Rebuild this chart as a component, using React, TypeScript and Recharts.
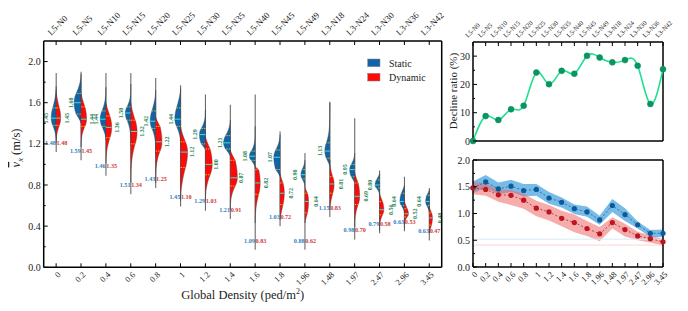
import React from "react";
import {
  ComposedChart,
  LineChart,
  Bar,
  Line,
  Area,
  XAxis,
  YAxis,
  ReferenceLine,
} from "recharts";

const FONT = "'Liberation Serif', 'DejaVu Serif', serif";

// categories
const densities = ["0", "0.2", "0.4", "0.6", "0.8", "1", "1.2", "1.4", "1.6", "1.8", "1.96", "1.48", "1.97", "2.47", "2.96", "3.45"];
const scenarios = ["L5-N0", "L5-N5", "L5-N10", "L5-N15", "L5-N20", "L5-N25", "L5-N30", "L5-N35", "L5-N40", "L5-N45", "L5-N49", "L3-N18", "L3-N24", "L3-N30", "L3-N36", "L3-N42"];

// means (m/s)
const staticMean = [1.48, 1.59, 1.46, 1.51, 1.43, 1.45, 1.29, 1.21, 1.09, 1.03, 0.88, 1.15, 0.98, 0.79, 0.63, 0.63];
const dynamicMean = [1.48, 1.45, 1.35, 1.34, 1.25, 1.10, 1.03, 0.91, 0.83, 0.72, 0.62, 0.83, 0.70, 0.58, 0.53, 0.47];

// violin summaries
const staticMedian = [1.45, 1.60, 1.44, 1.50, 1.42, 1.44, 1.29, 1.21, 1.08, 1.07, 0.90, 1.13, 0.95, 0.80, 0.64, 0.64];
const staticQ1 = [1.38, 1.49, 1.37, 1.43, 1.35, 1.37, 1.20, 1.15, 1.04, 0.95, 0.86, 1.06, 0.88, 0.77, 0.60, 0.60];
const staticQ3 = [1.55, 1.69, 1.52, 1.56, 1.52, 1.55, 1.35, 1.28, 1.13, 1.14, 0.95, 1.21, 1.00, 0.85, 0.72, 0.70];
const staticLo = [1.24, 1.40, 1.24, 1.18, 1.10, 1.18, 1.14, 1.08, 0.95, 0.88, 0.78, 0.98, 0.82, 0.69, 0.53, 0.53];
const staticHi = [1.76, 1.88, 1.75, 1.78, 1.72, 1.74, 1.53, 1.43, 1.37, 1.29, 1.04, 1.60, 1.11, 0.91, 0.80, 0.75];
const staticPeak = [0.4, 0.56, 0.46, 0.44, 0.44, 0.46, 0.48, 0.54, 0.46, 0.5, 0.32, 0.4, 0.4, 0.36, 0.36, 0.29];

const dynamicMedian = [1.45, 1.44, 1.36, 1.32, 1.22, 1.12, 1.00, 0.87, 0.82, 0.72, 0.64, 0.81, 0.69, 0.56, 0.52, 0.48];
const dynamicQ1 = [1.38, 1.37, 1.26, 1.20, 1.13, 0.97, 0.90, 0.79, 0.71, 0.61, 0.53, 0.72, 0.61, 0.51, 0.49, 0.41];
const dynamicQ3 = [1.55, 1.56, 1.47, 1.43, 1.37, 1.22, 1.15, 1.04, 0.95, 0.82, 0.72, 0.88, 0.82, 0.64, 0.57, 0.53];
const dynamicLo = [1.21, 1.17, 1.01, 0.82, 0.82, 0.65, 0.65, 0.56, 0.43, 0.46, 0.43, 0.56, 0.39, 0.36, 0.38, 0.33];
const dynamicHi = [1.72, 1.69, 1.60, 1.60, 1.46, 1.37, 1.27, 1.14, 0.98, 0.91, 0.78, 1.04, 0.92, 0.72, 0.65, 0.59];
const dynamicPeak = [0.36, 0.44, 0.46, 0.5, 0.5, 0.56, 0.54, 0.56, 0.4, 0.34, 0.29, 0.34, 0.4, 0.34, 0.32, 0.25];

const whiskerMin = [1.12, 1.04, 0.89, 0.71, 0.77, 0.59, 0.55, 0.47, 0.17, 0.40, 0.17, 0.49, 0.27, 0.33, 0.35, 0.26];
const whiskerMax = [1.89, 1.90, 1.89, 1.89, 1.84, 1.77, 1.68, 1.58, 1.68, 1.32, 1.11, 1.61, 1.45, 0.94, 0.88, 0.77];

// decline ratio (%)
const declineRatio = [0, 8.8, 7.4, 11.2, 12.5, 24.2, 20.1, 24.8, 23.8, 30.1, 29.5, 27.8, 28.6, 26.6, 13.1, 25.4];

// mean speed bands
const staticBandLo = [1.38, 1.48, 1.36, 1.40, 1.32, 1.33, 1.18, 1.11, 0.99, 0.94, 0.79, 1.03, 0.86, 0.72, 0.56, 0.56];
const staticBandHi = [1.60, 1.72, 1.58, 1.63, 1.55, 1.55, 1.40, 1.30, 1.17, 1.13, 0.96, 1.27, 1.10, 0.85, 0.69, 0.70];
const dynamicBandLo = [1.36, 1.33, 1.22, 1.16, 1.09, 0.95, 0.87, 0.76, 0.65, 0.58, 0.48, 0.72, 0.57, 0.50, 0.46, 0.40];
const dynamicBandHi = [1.60, 1.55, 1.45, 1.44, 1.37, 1.24, 1.16, 1.05, 0.98, 0.86, 0.75, 0.93, 0.81, 0.66, 0.59, 0.53];

const speedTicks = [0, 0.2, 0.4, 0.6, 0.8, 1.0, 1.2, 1.4, 1.6, 1.8, 2.0];
const ratioTicks = [0, 5, 10, 15, 20, 25, 30];
const bandTicks = [0, 0.25, 0.5, 0.75, 1.0, 1.25, 1.5, 1.75, 2.0];

const STATIC_FILL = "#1263a8";
const DYNAMIC_FILL = "#ff0a0a";

const leftRows = densities.map((density, i) => ({
  density,
  scenario: scenarios[i],
  range: [whiskerMin[i], whiskerMax[i]],
  i,
}));
const declineRows = scenarios.map((scenario, i) => ({ scenario, ratio: declineRatio[i] }));
const speedRows = densities.map((density, i) => ({
  density,
  staticMean: staticMean[i],
  dynamicMean: dynamicMean[i],
  staticBand: [staticBandLo[i], staticBandHi[i]],
  dynamicBand: [dynamicBandLo[i], dynamicBandHi[i]],
}));

// relative half-width of a violin at value v
function shapeAt(v: number, lo: number, q1: number, med: number, q3: number, hi: number) {
  if (v <= lo || v >= hi) return 0;
  const up = v >= med;
  const q = up ? q3 : q1;
  const end = up ? hi : lo;
  const core = Math.abs(q - med) || 0.01;
  const d = Math.abs(v - med);
  if (d <= core) {
    const t = d / core;
    return 1 - 0.3 * t * t;
  }
  const tail = Math.abs(end - q) || 0.01;
  const k = Math.min(4, Math.max(1.2, (0.6 * tail) / (0.7 * core)));
  const t = (d - core) / tail;
  return 0.7 * Math.pow(Math.max(0, 1 - t), k);
}

const ViolinShape = (props: any) => {
  const { x, y, width, height, payload } = props;
  if (payload == null || width == null) return null;
  const i = payload.i;
  const lo = whiskerMin[i];
  const hi = whiskerMax[i];
  const top = Math.min(y, y + height);
  const bottom = Math.max(y, y + height);
  const py = (v: number) => top + ((bottom - top) * (hi - v)) / (hi - lo);
  const cx = x + width / 2;
  const half = width / 2;
  const halves = [
    { side: -1, lo: staticLo[i], q1: staticQ1[i], med: staticMedian[i], q3: staticQ3[i], hi: staticHi[i], peak: staticPeak[i], fill: STATIC_FILL },
    { side: 1, lo: dynamicLo[i], q1: dynamicQ1[i], med: dynamicMedian[i], q3: dynamicQ3[i], hi: dynamicHi[i], peak: dynamicPeak[i], fill: DYNAMIC_FILL },
  ];
  const labelY = py(lo + 0.09) + 2;
  return (
    <g>
      <line x1={cx} x2={cx} y1={top} y2={bottom} stroke="#6a6a6a" strokeWidth={1.1} />
      {halves.map((h) => {
        const wAt = (v: number) => half * h.peak * shapeAt(v, h.lo, h.q1, h.med, h.q3, h.hi);
        const pts: string[] = [];
        const steps = 60;
        for (let k = 0; k <= steps; k++) {
          const v = h.lo + ((h.hi - h.lo) * k) / steps;
          pts.push(`${(cx + h.side * wAt(v)).toFixed(2)},${py(v).toFixed(2)}`);
        }
        const d = `M${cx},${py(h.lo)} L${pts.join(" L")} L${cx},${py(h.hi)} Z`;
        return (
          <g key={h.side}>
            <path d={d} fill={h.fill} stroke="#404040" strokeWidth={0.4} />
            {[h.q1, h.q3].map((q, k) => (
              <line key={k} x1={cx} x2={cx + h.side * wAt(q)} y1={py(q)} y2={py(q)} stroke="#f4e000" strokeWidth={0.8} strokeDasharray="1.5 1" />
            ))}
            <line x1={cx} x2={cx + h.side * wAt(h.med)} y1={py(h.med)} y2={py(h.med)} stroke="#3fe3d0" strokeWidth={1} />
          </g>
        );
      })}
      <text transform={`translate(${cx - 8},${py(staticMedian[i])}) rotate(-90)`} textAnchor="middle" fontSize={6} fontWeight="bold" fill="#1b7f52" fontFamily={FONT}>
        {staticMedian[i].toFixed(2)}
      </text>
      <text transform={`translate(${cx + 13},${py(dynamicMedian[i])}) rotate(-90)`} textAnchor="middle" fontSize={6} fontWeight="bold" fill="#1b7f52" fontFamily={FONT}>
        {dynamicMedian[i].toFixed(2)}
      </text>
      <text x={cx - 0.3} y={labelY} textAnchor="end" fontSize={6.2} fontWeight="bold" fill="#2f80c0" fontFamily={FONT}>
        {staticMean[i].toFixed(2)}
      </text>
      <text x={cx + 0.3} y={labelY} textAnchor="start" fontSize={6.2} fontWeight="bold" fill="#d03a3a" fontFamily={FONT}>
        {dynamicMean[i].toFixed(2)}
      </text>
    </g>
  );
};

const makeYTick = (isMajor: (v: number) => boolean, fmt: (v: number) => string, fs: number) => (p: any) => {
  const v = p.payload.value;
  const major = isMajor(v);
  return (
    <g>
      <line x1={p.x} x2={p.x + (major ? 4 : 2)} y1={p.y} y2={p.y} stroke="#000" strokeWidth={1} />
      {major && (
        <text x={p.x - 3} y={p.y + 3.5} textAnchor="end" fontSize={fs} fontFamily={FONT} fill="#222">
          {fmt(v)}
        </text>
      )}
    </g>
  );
};

const makeTopTick = (fs: number, dx: number, dy: number) => (p: any) => (
  <g>
    <line x1={p.x} x2={p.x} y1={p.y} y2={p.y + 4} stroke="#000" strokeWidth={1} />
    <text transform={`translate(${p.x + dx},${p.y + dy}) rotate(-45)`} fontSize={fs} fontFamily={FONT} fill="#222">
      {p.payload.value}
    </text>
  </g>
);

const makeBottomTick = (fs: number, dx: number, dy: number) => (p: any) => (
  <g>
    <line x1={p.x} x2={p.x} y1={p.y} y2={p.y - 4} stroke="#000" strokeWidth={1} />
    <text transform={`translate(${p.x + dx},${p.y + dy}) rotate(-45)`} textAnchor="end" fontSize={fs} fontFamily={FONT} fill="#222">
      {p.payload.value}
    </text>
  </g>
);

const frame = { stroke: "#000", strokeWidth: 1.5 };

export default function App() {
  return (
    <div style={{ position: "absolute", left: 0, top: 0, width: 688, height: 311, background: "#fff", fontFamily: FONT }}>
      <div style={{ position: "absolute", left: 0, top: 0 }}>
        <ComposedChart width={450} height={311} data={leftRows} margin={{ top: 0, right: 0, bottom: 0, left: 0 }} barCategoryGap={0} barGap={0}>
          <XAxis xAxisId="top" orientation="top" dataKey="scenario" height={41} interval={0} tickLine={false} tickSize={0} tickMargin={0} axisLine={frame} tick={makeTopTick(9, -5, -5)} />
          <XAxis xAxisId="bottom" dataKey="density" height={43.7} interval={0} tickLine={false} tickSize={0} tickMargin={0} axisLine={frame} tick={makeBottomTick(8.5, 5, 8)} />
          <YAxis yAxisId="v" domain={[0, 2.2]} ticks={speedTicks} width={43.7} interval={0} tickLine={false} tickSize={0} tickMargin={0} axisLine={frame}
            tick={makeYTick((v) => Math.round(v * 10) % 4 === 0, (v) => v.toFixed(1), 10)} />
          <YAxis yAxisId="r" orientation="right" domain={[0, 2.2]} width={8.3} tick={false} tickLine={false} axisLine={frame} />
          <Bar xAxisId="bottom" yAxisId="v" dataKey="range" isAnimationActive={false} shape={(p: any) => <ViolinShape {...p} />} />
        </ComposedChart>
      </div>

      <div style={{ position: "absolute", left: 430, top: 0 }}>
        <LineChart width={245} height={150} data={declineRows} margin={{ top: 0, right: 12, bottom: 9, left: 0 }}>
          <XAxis dataKey="scenario" orientation="top" height={42} scale="point" padding={{ left: 0, right: 0 }} interval={0} tickLine={false} tickSize={0} tickMargin={0} axisLine={frame} tick={makeTopTick(6.5, -5, -4)} />
          <YAxis domain={[0, 35]} ticks={ratioTicks} width={43} interval={0} tickLine={false} tickSize={0} tickMargin={0} axisLine={frame}
            tick={makeYTick((v) => v % 10 === 0, (v) => String(v), 10)} />
          <ReferenceLine x="L3-N42" stroke="#000" strokeWidth={1.5} />
          <ReferenceLine y={0} stroke="#000" strokeWidth={1.5} />
          <Line type="natural" dataKey="ratio" stroke="#1fe08f" strokeWidth={1.6} dot={{ r: 3, fill: "#0b9462", stroke: "#0b9462", strokeWidth: 0.5 }} isAnimationActive={false} />
        </LineChart>
      </div>

      <div style={{ position: "absolute", left: 430, top: 150 }}>
        <ComposedChart width={245} height={161} data={speedRows} margin={{ top: 10, right: 12, bottom: 0, left: 0 }}>
          <XAxis dataKey="density" height={44} scale="point" padding={{ left: 0, right: 0 }} interval={0} tickLine={false} tickSize={0} tickMargin={0} axisLine={frame} tick={makeBottomTick(8.5, 5, 8)} />
          <YAxis domain={[0, 2]} ticks={bandTicks} width={43} interval={0} tickLine={false} tickSize={0} tickMargin={0} axisLine={frame}
            tick={makeYTick((v) => Math.abs(v * 2 - Math.round(v * 2)) < 1e-6, (v) => v.toFixed(1), 10)} />
          <ReferenceLine y={0.52} stroke="#d6ebf8" strokeWidth={1} />
          <ReferenceLine y={0.41} stroke="#fbd6d6" strokeWidth={1} />
          <Area type="linear" dataKey="staticBand" stroke="none" fill="#3d9fe0" fillOpacity={0.7} isAnimationActive={false} />
          <Area type="linear" dataKey="dynamicBand" stroke="none" fill="#f06868" fillOpacity={0.55} isAnimationActive={false} />
          <Line type="linear" dataKey="staticMean" stroke="#2a5d8a" strokeWidth={0.8} strokeDasharray="2 2" dot={{ r: 2.6, fill: "#0d5a98", stroke: "none" }} isAnimationActive={false} />
          <Line type="linear" dataKey="dynamicMean" stroke="#9a2a34" strokeWidth={0.8} strokeDasharray="2 2" dot={{ r: 2.6, fill: "#bd1420", stroke: "none" }} isAnimationActive={false} />
          <ReferenceLine y={2} stroke="#000" strokeWidth={1.5} />
          <ReferenceLine x="3.45" stroke="#000" strokeWidth={1.5} />
        </ComposedChart>
      </div>

      <svg width={688} height={311} style={{ position: "absolute", left: 0, top: 0, pointerEvents: "none" }} fontFamily={FONT}>
        <text transform="translate(20,148) rotate(-90)" textAnchor="middle" fontSize={12.5} fill="#222">
          <tspan fontStyle="italic" textDecoration="overline">v</tspan>
          <tspan fontStyle="italic" fontSize={8.5} dy={3}>x</tspan>
          <tspan dy={-3}> (m/s)</tspan>
        </text>
        <text x={242.7} y={299} textAnchor="middle" fontSize={12.5} fill="#222">
          Global Density (ped/m<tspan fontSize={8} dy={-5}>2</tspan><tspan dy={5}>)</tspan>
        </text>
        <text transform="translate(457,91) rotate(-90)" textAnchor="middle" fontSize={11} fill="#222">
          Decline ratio (%)
        </text>
        <rect x={367.7} y={59} width={12.3} height={7.7} fill={STATIC_FILL} stroke="#888" strokeWidth={0.5} />
        <text x={389} y={66.5} fontSize={10} fill="#222">Static</text>
        <rect x={367.7} y={73.3} width={12.3} height={7.7} fill={DYNAMIC_FILL} stroke="#888" strokeWidth={0.5} />
        <text x={389} y={81} fontSize={10} fill="#222">Dynamic</text>
      </svg>
    </div>
  );
}
